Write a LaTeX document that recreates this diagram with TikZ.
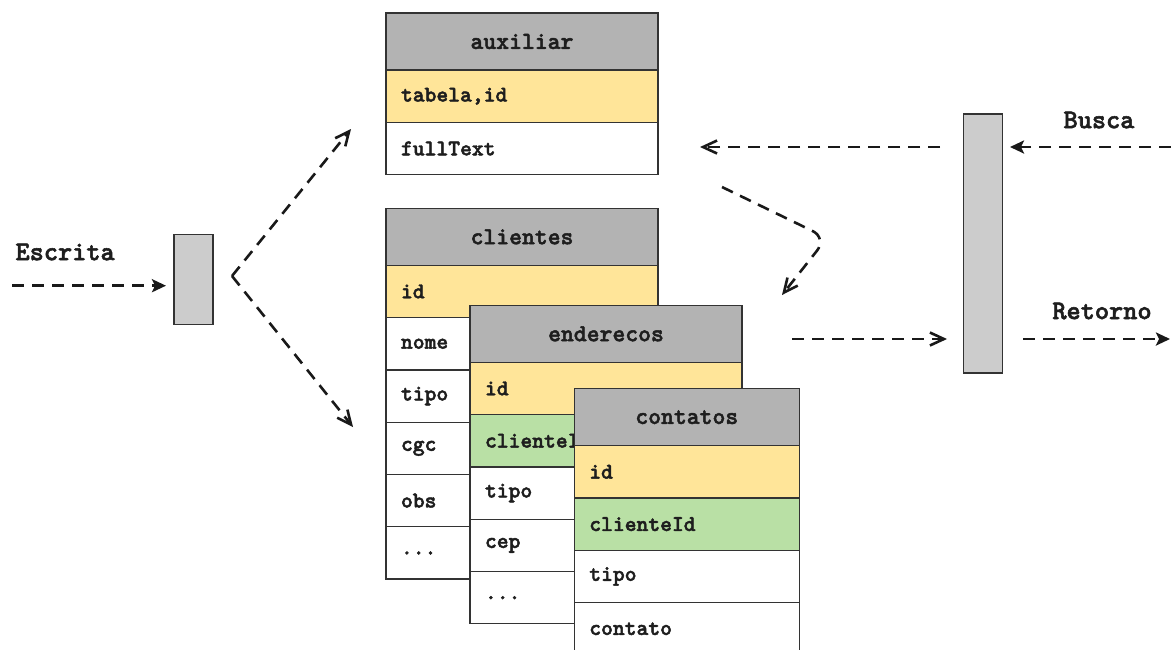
\documentclass[tikz,border=0pt]{standalone}
\usepackage{fontspec}
\newfontfamily\slabmono{lmmonolt10-bold.otf}[FakeBold=2]
\usetikzlibrary{arrows.meta}

\definecolor{hdrgray}{HTML}{B3B3B3}
\definecolor{keyyellow}{HTML}{FFE599}
\definecolor{fkgreen}{HTML}{B9E0A5}
\definecolor{boxgray}{HTML}{CCCCCC}
\definecolor{edgegray}{HTML}{333333}
\definecolor{inkgray}{HTML}{1E1E1E}

\tikzset{
  base/.style={draw=edgegray, line width=1.3pt, anchor=north west, inner ysep=0pt,
    inner xsep=15pt, outer sep=0pt, text=inkgray},
  hdr/.style={base, fill=hdrgray, minimum height=57pt, align=center,
    font=\slabmono\fontsize{24.5}{28}\selectfont},
  cell/.style={base, fill=white, minimum height=52.3pt, align=left,
    font=\slabmono\fontsize{22.5}{26}\selectfont},
  wide/.style={minimum width=272pt, text width=242pt},
  narrow/.style={minimum width=225pt, text width=195pt},
  pk/.style={fill=keyyellow},
  fk/.style={fill=fkgreen},
  proc/.style={draw=edgegray, fill=boxgray, line width=1.3pt, inner sep=0pt,
    outer sep=0pt, anchor=north west, minimum width=39pt},
  label/.style={text=inkgray, font=\slabmono\fontsize{27}{31}\selectfont},
  flow/.style={line width=2.6pt, dash pattern=on 12pt off 8pt, draw=black!90},
  solidtip/.style={-{Stealth[length=14pt,width=13pt,inset=3pt]}},
  opentip/.style={-{Straight Barb[length=14pt,width=13pt]}},
}

\begin{document}
\begin{tikzpicture}[x=1pt,y=-1pt]
\useasboundingbox (0,0) rectangle (1171,649);
\clip (0,0) rectangle (1171,649);

% table auxiliar
\node[hdr,wide] (aux-h) at (386,13) {auxiliar};
\node[cell,wide,pk] (aux-1) at (aux-h.south west) {tabela,id};
\node[cell,wide] (aux-2) at (aux-1.south west) {fullText};

% table clientes
\node[hdr,wide] (cli-h) at (386,208.3) {clientes};
\node[cell,wide,pk] (cli-1) at (cli-h.south west) {id};
\node[cell,wide] (cli-2) at (cli-1.south west) {nome};
\node[cell,wide] (cli-3) at (cli-2.south west) {tipo};
\node[cell,wide] (cli-4) at (cli-3.south west) {cgc};
\node[cell,wide] (cli-5) at (cli-4.south west) {obs};
\node[cell,wide] (cli-6) at (cli-5.south west) {...};

% table enderecos
\node[hdr,wide] (end-h) at (470,305.3) {enderecos};
\node[cell,wide,pk] (end-1) at (end-h.south west) {id};
\node[cell,wide,fk] (end-2) at (end-1.south west) {clienteId};
\node[cell,wide] (end-3) at (end-2.south west) {tipo};
\node[cell,wide] (end-4) at (end-3.south west) {cep};
\node[cell,wide] (end-5) at (end-4.south west) {...};

% table contatos
\node[hdr,narrow] (con-h) at (574.3,388.7) {contatos};
\node[cell,narrow,pk] (con-1) at (con-h.south west) {id};
\node[cell,narrow,fk] (con-2) at (con-1.south west) {clienteId};
\node[cell,narrow] (con-3) at (con-2.south west) {tipo};
\node[cell,narrow] (con-4) at (con-3.south west) {contato};

% processing blocks
\node[proc, minimum height=90pt] (wbox) at (174,234.3) {};
\node[proc, minimum height=259pt] (rbox) at (963.3,114) {};

% labels
\node[label, anchor=west] (lblEsc) at (12,252) {Escrita};
\node[label] (lblBus) at (1099,120) {Busca};
\node[label] (lblRet) at (1102,311) {Retorno};

% free ends of the connectors
\coordinate (escIn) at (12,285.7);
\coordinate (escTip) at (166,285.7);
\coordinate (fork) at (232,276);
\coordinate (forkUp) at (351,129);
\coordinate (forkDown) at (353,427);
\coordinate (busIn) at (1171,147);
\coordinate (busTip) at (1010,147);
\coordinate (auxOut) at (940,147);
\coordinate (auxTip) at (700,147);
\coordinate (curStart) at (722,187);
\coordinate (curBend) at (827,238);
\coordinate (curTip) at (782,295);
\coordinate (endOut) at (792,339);
\coordinate (endTip) at (947,339);
\coordinate (retOut) at (1023,339);
\coordinate (retTip) at (1170,339);

% write path
\draw[flow,solidtip] (escIn) -- (escTip);
\draw[flow,opentip] (fork) -- (forkUp);
\draw[flow,opentip] (fork) -- (forkDown);

% search path
\draw[flow,solidtip] (busIn) -- (busTip);
\draw[flow,opentip] (auxOut) -- (auxTip);
\draw[flow,opentip,rounded corners=16pt] (curStart) -- (curBend) -- (curTip);
\draw[flow,opentip] (endOut) -- (endTip);
\draw[flow,solidtip] (retOut) -- (retTip);
\end{tikzpicture}
\end{document}
